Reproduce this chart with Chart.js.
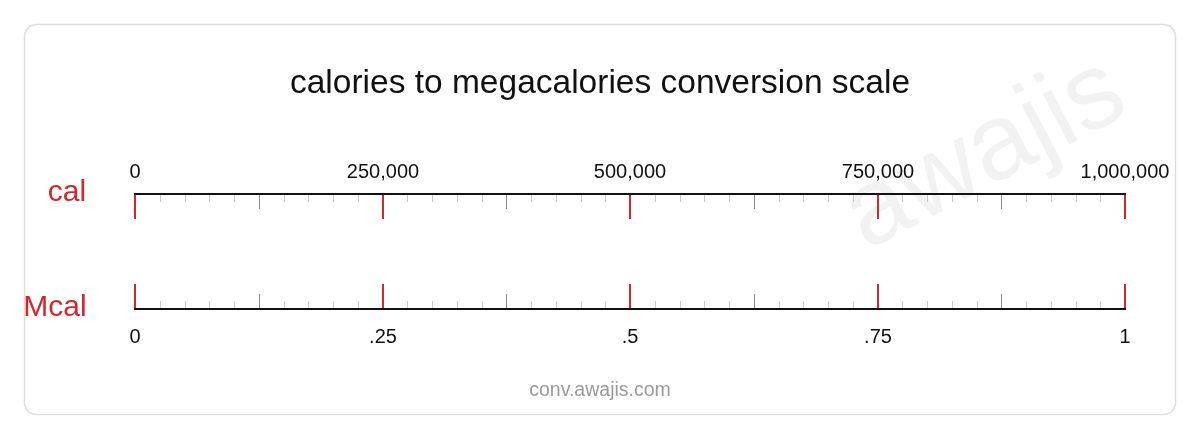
<!DOCTYPE html><html><head><meta charset="utf-8">
<script src="https://cdn.jsdelivr.net/npm/chart.js@4"></script>
<style>html,body{margin:0;background:#fff}#w{position:relative;width:1200px;height:440px}</style></head><body><div id="w"><canvas id="c" width="1200" height="440"></canvas></div>
<script>
const titleText = "calories to megacalories conversion scale";
const unitTop = "cal";
const unitBottom = "Mcal";
const calTicks = [0, 250000, 500000, 750000, 1000000];
const calLabels = ["0", "250,000", "500,000", "750,000", "1,000,000"];
const mcalTicks = [0, 0.25, 0.5, 0.75, 1];
const mcalLabels = ["0", ".25", ".5", ".75", "1"];
const subdivisions = 10;
const F = "'Liberation Sans', Arial, sans-serif";

const drawer = {
  id: 'drawer',
  afterDraw(chart) {
    const ctx = chart.ctx;
    const sx = chart.scales.x, sy = chart.scales.x2;
    ctx.save();
    ctx.strokeStyle = '#dddddd'; ctx.lineWidth = 1.5;
    ctx.beginPath(); ctx.roundRect(24.5, 24.5, 1151, 390, 12); ctx.stroke();
    ctx.save(); ctx.translate(985, 155); ctx.rotate(-Math.PI / 6.5);
    ctx.fillStyle = 'rgba(0,0,0,0.05)'; ctx.font = '108px ' + F;
    ctx.textAlign = 'center'; ctx.textBaseline = 'middle'; ctx.fillText('awajis', 0, 0); ctx.restore();
    ctx.fillStyle = '#111'; ctx.font = '33.5px ' + F; ctx.textAlign = 'center'; ctx.textBaseline = 'middle';
    ctx.fillText(titleText, 600, 84);
    ctx.fillStyle = '#999'; ctx.font = '19.5px ' + F; ctx.fillText('conv.awajis.com', 600, 391);
    ctx.fillStyle = '#d0282e'; ctx.font = '30px ' + F;
    ctx.fillText(unitTop, 67, 193); ctx.fillText(unitBottom, 55, 308);
    function axis(scale, ticks, labels, y, dir, labelY) {
      const x0 = scale.getPixelForValue(ticks[0]), x1 = scale.getPixelForValue(ticks[ticks.length - 1]);
      for (let i = 0; i < ticks.length - 1; i++) {
        for (let k = 1; k < subdivisions; k++) {
          const v = ticks[i] + (ticks[i + 1] - ticks[i]) * k / subdivisions;
          const px = Math.round(scale.getPixelForValue(v)) + 0.5;
          const mid = k === subdivisions / 2;
          ctx.strokeStyle = mid ? '#8a8a8a' : '#c8c8c8'; ctx.lineWidth = 1;
          ctx.beginPath(); ctx.moveTo(px, y); ctx.lineTo(px, y + dir * (mid ? 15 : 8)); ctx.stroke();
        }
      }
      ticks.forEach((v, i) => {
        const px = Math.round(scale.getPixelForValue(v));
        ctx.strokeStyle = '#d0282e'; ctx.lineWidth = 2;
        ctx.beginPath(); ctx.moveTo(px, y); ctx.lineTo(px, y + dir * 25); ctx.stroke();
        ctx.fillStyle = '#111'; ctx.font = '20px ' + F; ctx.textAlign = 'center'; ctx.textBaseline = 'middle';
        ctx.fillText(labels[i], px, labelY);
      });
      ctx.strokeStyle = '#111'; ctx.lineWidth = 2;
      ctx.beginPath(); ctx.moveTo(x0 - 1, y); ctx.lineTo(x1 + 1, y); ctx.stroke();
    }
    axis(sx, calTicks, calLabels, 194, 1, 172);
    axis(sy, mcalTicks, mcalLabels, 309, -1, 337);
    ctx.restore();
  }
};
new Chart(document.getElementById('c'), {
  type: 'scatter',
  data: { datasets: [] },
  options: {
    responsive: false, animation: false, devicePixelRatio: 1,
    layout: { padding: { left: 135, right: 75, top: 150, bottom: 80 } },
    plugins: { legend: { display: false }, tooltip: { enabled: false } },
    scales: {
      x: { type: 'linear', min: calTicks[0], max: calTicks[calTicks.length - 1], display: false },
      x2: { type: 'linear', axis: 'x', min: mcalTicks[0], max: mcalTicks[mcalTicks.length - 1], display: false },
      y: { display: false, min: 0, max: 1 }
    }
  },
  plugins: [drawer]
});
</script></body></html>
